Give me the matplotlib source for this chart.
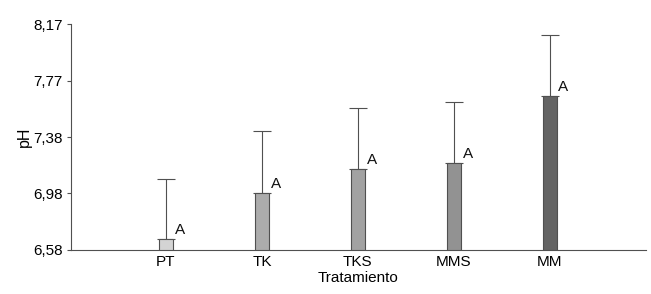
import matplotlib
matplotlib.use("Agg")
import matplotlib.pyplot as plt

categories = ["PT", "TK", "TKS", "MMS", "MM"]
means = [6.657, 6.983, 7.148, 7.19, 7.666]
errors = [0.42, 0.434, 0.431, 0.434, 0.425]
letters = ["A", "A", "A", "A", "A"]
colors = ["#d4d4d4", "#acacac", "#a2a2a2", "#929292", "#646464"]
yticks = [6.58, 6.9775, 7.375, 7.7725, 8.17]
ytick_labels = ["6,58", "6,98", "7,38", "7,77", "8,17"]

plt.rcParams['font.family'] = ['Liberation Sans', 'DejaVu Sans']

fig = plt.figure(figsize=(6.51, 2.94), dpi=100)
ax = fig.add_axes([0.109, 0.150, 0.883, 0.768])

base = 6.58
x = list(range(len(categories)))
heights = [m - base for m in means]
ax.bar(x, heights, bottom=base, width=0.14, color=colors,
       edgecolor="#505050", linewidth=0.8, zorder=3)
ax.errorbar(x, means, yerr=[[0] * len(errors), errors], fmt="none",
            ecolor="#505050", elinewidth=0.8, capsize=6.5, capthick=0.8, zorder=2)
for xi, m, lt in zip(x, means, letters):
    ax.text(xi + 0.09, m + 0.015, lt, fontsize=11, ha="left", va="bottom", color="#111111")

ax.set_xlim(-0.99, 5.0)
ax.set_ylim(base, 8.17)
ax.set_yticks(yticks)
ax.set_yticklabels(ytick_labels)
ax.set_xticks(x)
ax.set_xticklabels(categories)
ax.tick_params(axis="y", length=3, width=0.8, color="#505050", labelsize=11, pad=3)
ax.tick_params(axis="x", length=0, labelsize=11, pad=4)
for s in ["top", "right"]:
    ax.spines[s].set_visible(False)
for s in ["left", "bottom"]:
    ax.spines[s].set_color("#505050")
    ax.spines[s].set_linewidth(0.8)
ax.set_xlabel("Tratamiento", fontsize=11, labelpad=1)
ax.set_ylabel("pH", fontsize=11.5)
ax.yaxis.set_label_coords(-0.068, 0.5)

fig.savefig("out.png", dpi=100)
